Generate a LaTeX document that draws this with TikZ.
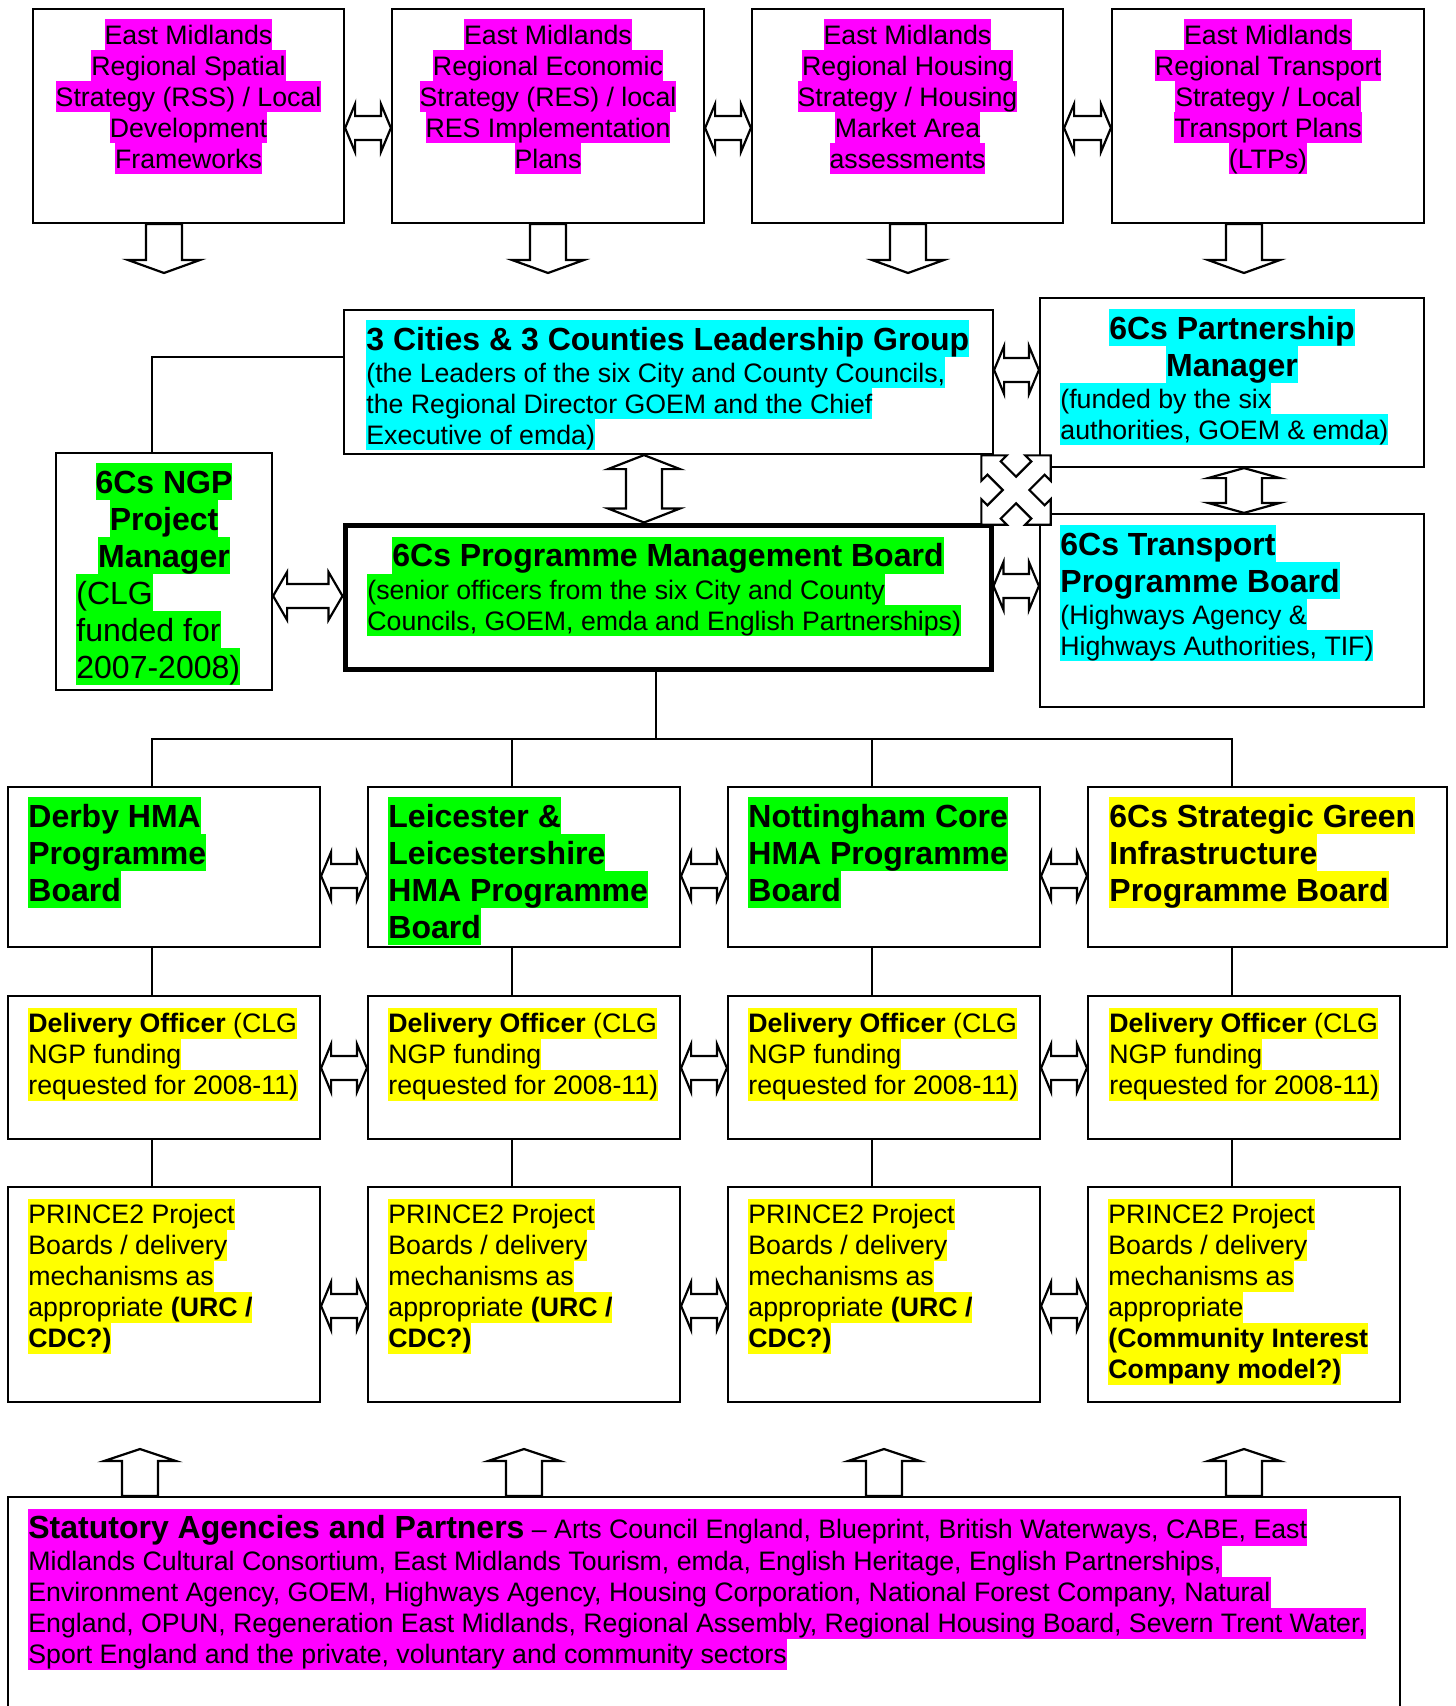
\documentclass[tikz,border=0pt]{standalone}
\usepackage{fontspec}
\setmainfont{Liberation Sans}
\usetikzlibrary{calc,fit}
\setlength\fboxsep{0pt}
\definecolor{hm}{RGB}{255,0,255}
\definecolor{hc}{RGB}{0,255,255}
\definecolor{hg}{RGB}{0,255,0}
\definecolor{hy}{RGB}{255,255,0}
% highlighted lines: regular 12pt-like, bold title 14pt-like, regular 14pt-like
\newcommand\hr[2]{\colorbox{#1}{\fontsize{13.35pt}{15.5pt}\selectfont\rule[-3pt]{0pt}{15.5pt}#2}}
\newcommand\hb[2]{\colorbox{#1}{\fontsize{16pt}{18.5pt}\selectfont\bfseries\rule[-3.6pt]{0pt}{18.5pt}#2}}
\newcommand\hm[2]{\colorbox{#1}{\fontsize{16pt}{18.5pt}\selectfont\rule[-3.6pt]{0pt}{18.5pt}#2}}
\newcommand\stL[1]{\vbox{\offinterlineskip\halign{##\hfil\cr#1\crcr}}}
\newcommand\stC[1]{\vbox{\offinterlineskip\halign{\hfil##\hfil\cr#1\crcr}}}
% block arrows
\newcommand\harr[5]{\draw[blk] let \p1=(#1), \p2=(#2) in (\x1,\y1) -- (\x1+#5,\y1+#4) -- (\x1+#5,\y1+#3) -- (\x2-#5,\y1+#3) -- (\x2-#5,\y1+#4) -- (\x2,\y1) -- (\x2-#5,\y1-#4) -- (\x2-#5,\y1-#3) -- (\x1+#5,\y1-#3) -- (\x1+#5,\y1-#4) -- cycle;}
\newcommand\varr[5]{\draw[blk] let \p1=(#1), \p2=(#2) in (\x1,\y1) -- (\x1+#4,\y1-#5) -- (\x1+#3,\y1-#5) -- (\x1+#3,\y2+#5) -- (\x1+#4,\y2+#5) -- (\x1,\y2) -- (\x1-#4,\y2+#5) -- (\x1-#3,\y2+#5) -- (\x1-#3,\y1-#5) -- (\x1-#4,\y1-#5) -- cycle;}
\newcommand\darr[5]{\draw[blk] let \p1=(#1), \p2=(#2) in (\x1-#3,\y1) -- (\x1-#3,\y2+#5) -- (\x1-#4,\y2+#5) -- (\x1,\y2) -- (\x1+#4,\y2+#5) -- (\x1+#3,\y2+#5) -- (\x1+#3,\y1) -- cycle;}
\newcommand\uarr[5]{\draw[blk] let \p1=(#1), \p2=(#2) in (\x1-#3,\y1) -- (\x1-#3,\y2-#5) -- (\x1-#4,\y2-#5) -- (\x1,\y2) -- (\x1+#4,\y2-#5) -- (\x1+#3,\y2-#5) -- (\x1+#3,\y1) -- cycle;}
\newcommand\dotext{\stL{\hr{hy}{\textbf{Delivery Officer} (CLG}\cr\hr{hy}{NGP funding}\cr\hr{hy}{requested for 2008-11)}}}
\newcommand\prtext{\stL{\hr{hy}{PRINCE2 Project}\cr\hr{hy}{Boards / delivery}\cr\hr{hy}{mechanisms as}\cr\hr{hy}{appropriate \textbf{(URC /}}\cr\hr{hy}{\textbf{CDC?)}}}}
\begin{document}
\begin{tikzpicture}[x=0.5pt,y=-0.5pt,
  bx/.style={draw, line width=1.1pt, inner sep=0pt},
  thk/.style={draw, line width=2.5pt, inner sep=0pt},
  tx/.style={inner sep=0pt, anchor=north west},
  tc/.style={inner sep=0pt, anchor=north},
  blk/.style={draw=black, fill=white, line width=1.1pt, line join=miter},
  ln/.style={line width=1.1pt}]
\path[use as bounding box, fill=white] (0,0) rectangle (1455,1706);

% ---------- boxes ----------
\node[bx, fit={(33,9) (344,223)}] (tb1) {};
\node[bx, fit={(392,9) (704,223)}] (tb2) {};
\node[bx, fit={(752,9) (1063,223)}] (tb3) {};
\node[bx, fit={(1112,9) (1424,223)}] (tb4) {};
\node[bx, fit={(344,310) (993,454)}] (lead) {};
\node[bx, fit={(1040,298) (1424,467)}] (pm) {};
\node[bx, fit={(56,453) (272,690)}] (ngp) {};
\node[thk, fit={(345,525) (991,669)}] (pmb) {};
\node[bx, fit={(1040,514) (1424,707)}] (tr) {};
\node[bx, fit={(8,787) (320,947)}] (r3a) {};
\node[bx, fit={(368,787) (680,947)}] (r3b) {};
\node[bx, fit={(728,787) (1040,947)}] (r3c) {};
\node[bx, fit={(1088,787) (1447,947)}] (r3d) {};
\node[bx, fit={(8,996) (320,1139)}] (r4a) {};
\node[bx, fit={(368,996) (680,1139)}] (r4b) {};
\node[bx, fit={(728,996) (1040,1139)}] (r4c) {};
\node[bx, fit={(1088,996) (1400,1139)}] (r4d) {};
\node[bx, fit={(8,1187) (320,1402)}] (r5a) {};
\node[bx, fit={(368,1187) (680,1402)}] (r5b) {};
\node[bx, fit={(728,1187) (1040,1402)}] (r5c) {};
\node[bx, fit={(1088,1187) (1400,1402)}] (r5d) {};
\node[bx, fit={(8,1497) (1400,1760)}] (bot) {};

% ---------- texts ----------
\node[tc] (tt1) at (188.5,19) {\stC{\hr{hm}{East Midlands}\cr\hr{hm}{Regional Spatial}\cr\hr{hm}{Strategy (RSS) / Local}\cr\hr{hm}{Development}\cr\hr{hm}{Frameworks}}};
\node[tc] (tt2) at (548,19) {\stC{\hr{hm}{East Midlands}\cr\hr{hm}{Regional Economic}\cr\hr{hm}{Strategy (RES) / local}\cr\hr{hm}{RES Implementation}\cr\hr{hm}{Plans}}};
\node[tc] (tt3) at (907.5,19) {\stC{\hr{hm}{East Midlands}\cr\hr{hm}{Regional Housing}\cr\hr{hm}{Strategy / Housing}\cr\hr{hm}{Market Area}\cr\hr{hm}{assessments}}};
\node[tc] (tt4) at (1268,19) {\stC{\hr{hm}{East Midlands}\cr\hr{hm}{Regional Transport}\cr\hr{hm}{Strategy / Local}\cr\hr{hm}{Transport Plans}\cr\hr{hm}{(LTPs)}}};

\node[tx] (leadt) at (366,320) {\stL{\hb{hc}{3 Cities \& 3 Counties Leadership Group}\cr\hr{hc}{(the Leaders of the six City and County Councils,}\cr\hr{hc}{the Regional Director GOEM and the Chief}\cr\hr{hc}{Executive of emda)}}};
\node[tc] (pmt) at (1232,309) {\stC{\hb{hc}{6Cs Partnership}\cr\hb{hc}{Manager}}};
\node[tx] (pmtb) at (1060,383) {\stL{\hr{hc}{(funded by the six}\cr\hr{hc}{authorities, GOEM \& emda)}}};
\node[tc] (ngpt) at (164,463) {\stC{\hb{hg}{6Cs NGP}\cr\hb{hg}{Project}\cr\hb{hg}{Manager}}};
\node[tx] (ngptb) at (76,574) {\stL{\hm{hg}{(CLG}\cr\hm{hg}{funded for}\cr\hm{hg}{2007-2008)}}};
\node[tc] (pmbt) at (668,536.7) {\hb{hg}{6Cs Programme Management Board}};
\node[tx] (pmbtb) at (367,573.7) {\stL{\hr{hg}{(senior officers from the six City and County}\cr\hr{hg}{Councils, GOEM, emda and English Partnerships)}}};
\node[tx] (trt) at (1060,525) {\stL{\hb{hc}{6Cs Transport}\cr\hb{hc}{Programme Board}\cr\hr{hc}{(Highways Agency \&}\cr\hr{hc}{Highways Authorities, TIF)}}};

\node[tx] (r3at) at (28,797) {\stL{\hb{hg}{Derby HMA}\cr\hb{hg}{Programme}\cr\hb{hg}{Board}}};
\node[tx] (r3bt) at (388,797) {\stL{\hb{hg}{Leicester \&}\cr\hb{hg}{Leicestershire}\cr\hb{hg}{HMA Programme}\cr\hb{hg}{Board}}};
\node[tx] (r3ct) at (748,797) {\stL{\hb{hg}{Nottingham Core}\cr\hb{hg}{HMA Programme}\cr\hb{hg}{Board}}};
\node[tx] (r3dt) at (1109,797) {\stL{\hb{hy}{6Cs Strategic Green}\cr\hb{hy}{Infrastructure}\cr\hb{hy}{Programme Board}}};

\node[tx] (r4at) at (28,1007.3) {\dotext};
\node[tx] (r4bt) at (388,1007.3) {\dotext};
\node[tx] (r4ct) at (748,1007.3) {\dotext};
\node[tx] (r4dt) at (1109,1007.3) {\dotext};

\node[tx] (r5at) at (28,1198.3) {\prtext};
\node[tx] (r5bt) at (388,1198.3) {\prtext};
\node[tx] (r5ct) at (748,1198.3) {\prtext};
\node[tx] (r5dt) at (1108,1198.3) {\stL{\hr{hy}{PRINCE2 Project}\cr\hr{hy}{Boards / delivery}\cr\hr{hy}{mechanisms as}\cr\hr{hy}{appropriate}\cr\hr{hy}{\textbf{(Community Interest}}\cr\hr{hy}{\textbf{Company model?)}}}};

\node[tx] (bott) at (28,1508.3) {\stL{\colorbox{hm}{\fontsize{16pt}{18.5pt}\selectfont\rule[-3.6pt]{0pt}{18.5pt}\textbf{Statutory Agencies and Partners}\fontsize{13.35pt}{15.5pt}\selectfont{} – Arts Council England, Blueprint, British Waterways, CABE, East}\cr
\hr{hm}{Midlands Cultural Consortium, East Midlands Tourism, emda, English Heritage, English Partnerships,}\cr
\hr{hm}{Environment Agency, GOEM, Highways Agency, Housing Corporation, National Forest Company, Natural}\cr
\hr{hm}{England, OPUN, Regeneration East Midlands, Regional Assembly, Regional Housing Board, Severn Trent Water,}\cr
\hr{hm}{Sport England and the private, voluntary and community sectors}}};

% ---------- connector lines ----------
\coordinate (bus) at (656,739);
\draw[ln] (lead.west |- 0,357) -| (ngp.north -| 152,0);
\draw[ln] (pmb.south -| bus) -- (bus);
\draw[ln] (r3a.north -| 152,0) |- (bus) -| (r3d.north -| 1232,0);
\draw[ln] (bus -| 512,0) -- (r3b.north -| 512,0);
\draw[ln] (bus -| 872,0) -- (r3c.north -| 872,0);
\foreach \c/\xx in {a/152,b/512,c/872,d/1232}{
  \draw[ln] (r3\c.south -| \xx,0) -- (r4\c.north -| \xx,0);
  \draw[ln] (r4\c.south -| \xx,0) -- (r5\c.north -| \xx,0);
}

% ---------- block arrows ----------
\harr{tb1.east |- 0,128}{tb2.west |- 0,128}{6pt}{12pt}{5pt}
\harr{tb2.east |- 0,128}{tb3.west |- 0,128}{6pt}{12pt}{5pt}
\harr{tb3.east |- 0,128}{tb4.west |- 0,128}{6pt}{12pt}{5pt}
\coordinate (d1) at (164,273);
\coordinate (d2) at (548,273);
\coordinate (d3) at (908,273);
\coordinate (d4) at (1244,273);
\darr{tb1.south -| d1}{d1}{9pt}{18pt}{6.5pt}
\darr{tb2.south -| d2}{d2}{9pt}{18pt}{6.5pt}
\darr{tb3.south -| d3}{d3}{9pt}{18pt}{6.5pt}
\darr{tb4.south -| d4}{d4}{9pt}{18pt}{6.5pt}

\harr{lead.east |- 0,370}{pm.west |- 0,370}{6pt}{12pt}{5pt}
\varr{lead.south -| 644,0}{pmb.north -| 644,0}{9pt}{18pt}{7pt}
\varr{pm.south -| 1244,0}{tr.north -| 1244,0}{9pt}{18pt}{5pt}
\harr{ngp.east |- 0,596}{pmb.west |- 0,596}{6pt}{12pt}{7pt}
\harr{pmb.east |- 0,586}{tr.west |- 0,586}{6pt}{12pt}{5pt}

\harr{r3a.east |- 0,876}{r3b.west |- 0,876}{6pt}{12pt}{5pt}
\harr{r3b.east |- 0,876}{r3c.west |- 0,876}{6pt}{12pt}{5pt}
\harr{r3c.east |- 0,876}{r3d.west |- 0,876}{6pt}{12pt}{5pt}
\harr{r4a.east |- 0,1068}{r4b.west |- 0,1068}{6pt}{12pt}{5pt}
\harr{r4b.east |- 0,1068}{r4c.west |- 0,1068}{6pt}{12pt}{5pt}
\harr{r4c.east |- 0,1068}{r4d.west |- 0,1068}{6pt}{12pt}{5pt}
\harr{r5a.east |- 0,1306}{r5b.west |- 0,1306}{6pt}{12pt}{5pt}
\harr{r5b.east |- 0,1306}{r5c.west |- 0,1306}{6pt}{12pt}{5pt}
\harr{r5c.east |- 0,1306}{r5d.west |- 0,1306}{6pt}{12pt}{5pt}

\coordinate (u1) at (140,1449);
\coordinate (u2) at (524,1449);
\coordinate (u3) at (884,1449);
\coordinate (u4) at (1244,1449);
\uarr{bot.north -| u1}{u1}{9pt}{18pt}{6pt}
\uarr{bot.north -| u2}{u2}{9pt}{18pt}{6pt}
\uarr{bot.north -| u3}{u3}{9pt}{18pt}{6pt}
\uarr{bot.north -| u4}{u4}{9pt}{18pt}{6pt}

% ---------- four-way diagonal arrow ----------
\coordinate (cx) at (1016,490);
\draw[blk, shift={(cx)}, rotate=45] (9.4,-9.4) -- (31,-9.4) -- (31,-18) -- (49,0) -- (31,18) -- (31,9.4) -- (9.4,9.4) -- (9.4,31) -- (18,31) -- (0,49) -- (-18,31) -- (-9.4,31) -- (-9.4,9.4) -- (-31,9.4) -- (-31,18) -- (-49,0) -- (-31,-18) -- (-31,-9.4) -- (-9.4,-9.4) -- (-9.4,-31) -- (-18,-31) -- (0,-49) -- (18,-31) -- (9.4,-31) -- cycle;
\end{tikzpicture}
\end{document}
